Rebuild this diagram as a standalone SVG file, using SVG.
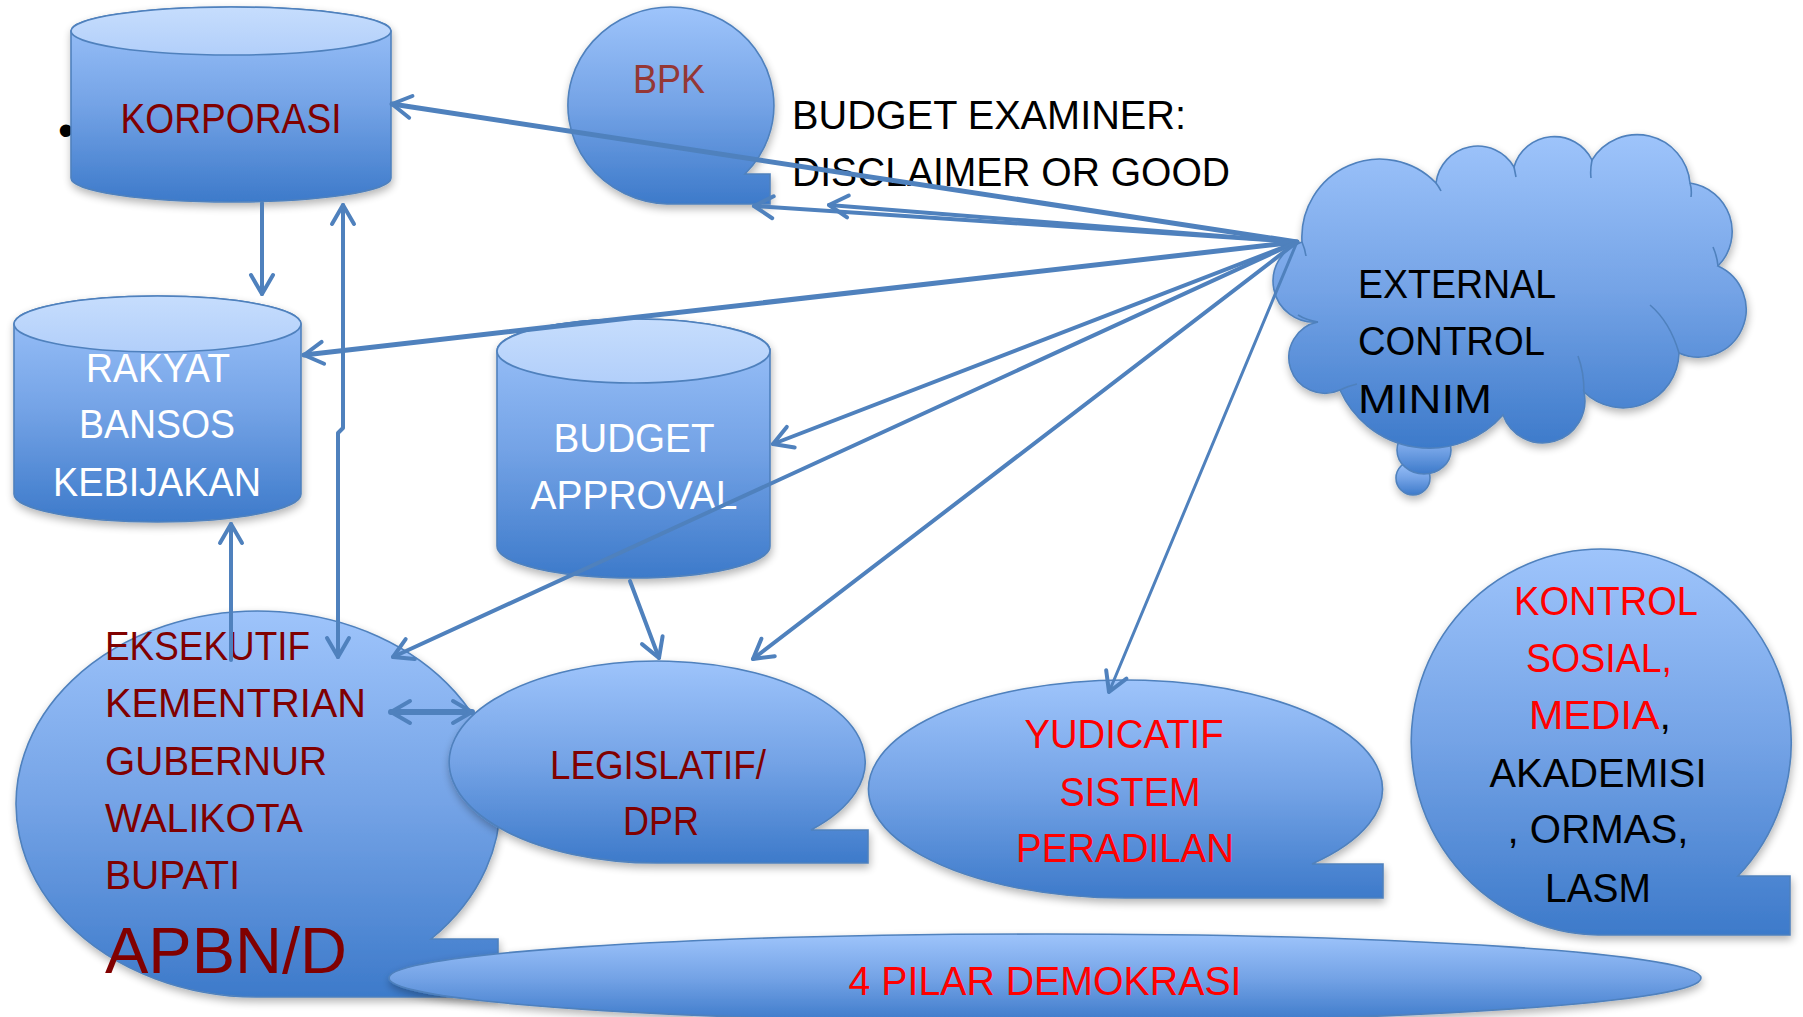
<svg xmlns="http://www.w3.org/2000/svg" width="1803" height="1017" viewBox="0 0 1803 1017">
  <defs>
    <linearGradient id="gFill" x1="0" y1="0" x2="0" y2="1">
      <stop offset="0" stop-color="#9ec4fb"/>
      <stop offset="0.5" stop-color="#74a3e6"/>
      <stop offset="1" stop-color="#3d7aca"/>
    </linearGradient>
    <linearGradient id="gCap" x1="0" y1="0" x2="0" y2="1">
      <stop offset="0" stop-color="#c6ddfd"/>
      <stop offset="1" stop-color="#b2cffa"/>
    </linearGradient>
    <filter id="shadow" x="-10%" y="-10%" width="120%" height="130%">
      <feGaussianBlur in="SourceAlpha" stdDeviation="4"/>
      <feOffset dx="1" dy="4" result="b"/>
      <feComponentTransfer><feFuncA type="linear" slope="0.3"/></feComponentTransfer>
      <feMerge><feMergeNode/><feMergeNode in="SourceGraphic"/></feMerge>
    </filter>
    <marker id="ah" viewBox="-25 -15 30 30" refX="0" refY="0" markerWidth="30" markerHeight="30" markerUnits="userSpaceOnUse" orient="auto-start-reverse" overflow="visible">
      <path d="M -19 -11 L 0 0 L -19 11" fill="none" stroke="#4f81bd" stroke-width="4" stroke-linecap="round" stroke-linejoin="round"/>
    </marker>
  </defs>
  <style>
    .shape { fill: url(#gFill); stroke: #4f81bd; stroke-width: 1.6; }
    .cap { fill: url(#gCap); stroke: #4f81bd; stroke-width: 1.6; }
    .inner { fill: none; stroke: #4f81bd; stroke-width: 1.6; }
    .t { font-family: "Liberation Sans", Arial, sans-serif; font-size: 41px; }
    .big { font-size: 64px; }
    .k43 { font-size: 43px; }
    .dot { font-size: 46px; }
    .mid { text-anchor: middle; }
    .dred { fill: #800000; }
    .red { fill: #ff0000; }
    .blk { fill: #000000; }
    .wht { fill: #ffffff; }
    .conn { fill: none; stroke: #4f81bd; stroke-linecap: round; stroke-linejoin: round; }
  </style>

  <rect width="1803" height="1017" fill="#ffffff"/>

  <text x="66" y="146" class="t dot mid blk">•</text>

  <!-- KORPORASI cylinder -->
  <g id="korporasi">
    <g filter="url(#shadow)">
      <path class="shape" d="M 71 31 V 178 A 160 24 0 0 0 391 178 V 31 A 160 24 0 0 0 71 31 Z"/>
      <ellipse class="cap" cx="231" cy="31" rx="160" ry="24"/>
    </g>
    <text x="231" y="133" class="t k43 mid dred" textLength="221" lengthAdjust="spacingAndGlyphs">KORPORASI</text>
  </g>

  <!-- BPK callout -->
  <g id="bpk">
    <path class="shape" filter="url(#shadow)" d="M 667 204 A 103 98.5 0 1 1 745 174 L 770 174 L 770 204 Z"/>
    <text x="669" y="93" class="t mid" fill="#953735" textLength="72" lengthAdjust="spacingAndGlyphs">BPK</text>
  </g>

  <!-- free label next to BPK -->
  <g id="budget-examiner">
    <text x="792" y="129" class="t blk" textLength="394" lengthAdjust="spacingAndGlyphs">BUDGET EXAMINER:</text>
    <text x="792" y="186" class="t blk" textLength="438" lengthAdjust="spacingAndGlyphs">DISCLAIMER OR GOOD</text>
  </g>

  <!-- RAKYAT cylinder -->
  <g id="rakyat">
    <g filter="url(#shadow)">
      <path class="shape" d="M 14 324 V 494 A 143.5 28 0 0 0 301 494 V 324 A 143.5 28 0 0 0 14 324 Z"/>
      <ellipse class="cap" cx="157.5" cy="324" rx="143.5" ry="28"/>
    </g>
    <text x="158" y="382" class="t mid wht" textLength="144" lengthAdjust="spacingAndGlyphs">RAKYAT</text>
    <text x="157" y="438" class="t mid wht" textLength="156" lengthAdjust="spacingAndGlyphs">BANSOS</text>
    <text x="157" y="496" class="t mid wht" textLength="208" lengthAdjust="spacingAndGlyphs">KEBIJAKAN</text>
  </g>

  <!-- BUDGET APPROVAL cylinder -->
  <g id="budget-approval">
    <g filter="url(#shadow)">
      <path class="shape" d="M 497 351 V 546 A 136.5 32 0 0 0 770 546 V 351 A 136.5 32 0 0 0 497 351 Z"/>
      <ellipse class="cap" cx="633.5" cy="351" rx="136.5" ry="32"/>
    </g>
    <text x="634" y="452" class="t mid wht" textLength="161" lengthAdjust="spacingAndGlyphs">BUDGET</text>
    <text x="634" y="509" class="t mid wht" textLength="207" lengthAdjust="spacingAndGlyphs">APPROVAL</text>
  </g>

  <!-- EKSEKUTIF callout -->
  <g id="eksekutif">
    <path class="shape" filter="url(#shadow)" d="M 256 997 A 242 193 0 1 1 431 939 L 498 939 L 498 997 Z"/>
    <text x="105" y="660" class="t dred" textLength="205" lengthAdjust="spacingAndGlyphs">EKSEKUTIF</text>
    <text x="105" y="717" class="t dred" textLength="261" lengthAdjust="spacingAndGlyphs">KEMENTRIAN</text>
    <text x="105" y="775" class="t dred" textLength="222" lengthAdjust="spacingAndGlyphs">GUBERNUR</text>
    <text x="105" y="832" class="t dred" textLength="198" lengthAdjust="spacingAndGlyphs">WALIKOTA</text>
    <text x="105" y="889" class="t dred" textLength="135" lengthAdjust="spacingAndGlyphs">BUPATI</text>
    <text x="105" y="973" class="t big dred" textLength="242" lengthAdjust="spacingAndGlyphs">APBN/D</text>
  </g>

  <!-- LEGISLATIF callout -->
  <g id="legislatif">
    <path class="shape" filter="url(#shadow)" d="M 660 863 A 208 101 0 1 1 811 830 L 868 830 L 868 863 Z"/>
    <text x="658" y="779" class="t mid dred" textLength="216" lengthAdjust="spacingAndGlyphs">LEGISLATIF/</text>
    <text x="661" y="835" class="t mid dred" textLength="76" lengthAdjust="spacingAndGlyphs">DPR</text>
  </g>

  <!-- YUDICATIF callout -->
  <g id="yudicatif">
    <path class="shape" filter="url(#shadow)" d="M 1125 898 A 257 109 0 1 1 1312 864 L 1383 864 L 1383 898 Z"/>
    <text x="1124" y="748" class="t mid red" textLength="199" lengthAdjust="spacingAndGlyphs">YUDICATIF</text>
    <text x="1130" y="806" class="t mid red" textLength="141" lengthAdjust="spacingAndGlyphs">SISTEM</text>
    <text x="1125" y="862" class="t mid red" textLength="218" lengthAdjust="spacingAndGlyphs">PERADILAN</text>
  </g>

  <!-- KONTROL SOSIAL callout -->
  <g id="kontrol-sosial">
    <path class="shape" filter="url(#shadow)" d="M 1598 935 A 190 193 0 1 1 1738 876 L 1790 876 L 1790 935 Z"/>
    <text x="1606" y="615" class="t mid red" textLength="184" lengthAdjust="spacingAndGlyphs">KONTROL</text>
    <text x="1599" y="672" class="t mid red" textLength="146" lengthAdjust="spacingAndGlyphs">SOSIAL,</text>
    <text x="1600" y="729" class="t mid" textLength="142" lengthAdjust="spacingAndGlyphs"><tspan class="red">MEDIA</tspan><tspan class="blk">,</tspan></text>
    <text x="1598" y="787" class="t mid blk" textLength="217" lengthAdjust="spacingAndGlyphs">AKADEMISI</text>
    <text x="1598" y="843" class="t mid blk" textLength="181" lengthAdjust="spacingAndGlyphs">, ORMAS,</text>
    <text x="1598" y="902" class="t mid blk" textLength="106" lengthAdjust="spacingAndGlyphs">LASM</text>
  </g>

  <!-- 4 PILAR DEMOKRASI base ellipse -->
  <g id="pilar">
    <ellipse class="shape" filter="url(#shadow)" cx="1045" cy="978" rx="656" ry="44"/>
    <text x="1045" y="995" class="t mid red" textLength="393" lengthAdjust="spacingAndGlyphs">4 PILAR DEMOKRASI</text>
  </g>

  <!-- EXTERNAL CONTROL thought cloud -->
  <g id="external-control">
    <g filter="url(#shadow)">
      <ellipse class="shape" cx="1413" cy="478" rx="17" ry="17"/>
      <ellipse class="shape" cx="1424" cy="450" rx="27" ry="24"/>
      <path class="shape" d="M 1318 322 A 41 41 0 0 1 1302 242 A 78 78 0 0 1 1436 183 A 42 42 0 0 1 1514 167 A 42 42 0 0 1 1592 160 A 53 53 0 0 1 1690 183 A 49 49 0 0 1 1718 266 A 46.5 46.5 0 0 1 1679 353 A 56 56 0 0 1 1584 392 A 42.2 42.2 0 0 1 1503 415 A 98 98 0 0 1 1340 390 A 36 36 0 1 1 1318 322 Z"/>
    </g>
    <path class="inner" d="M 1679 353 Q 1670 322 1650 305 M 1584 392 Q 1584 372 1578 356 M 1340 390 Q 1348 386 1357 384 M 1318 322 Q 1306 320 1298 315 M 1718 266 Q 1717 256 1713 247 M 1690 183 Q 1692 190 1691 197 M 1592 160 Q 1590 170 1591 178 M 1514 167 Q 1515 172 1516 177 M 1436 183 Q 1439 187 1441 191 M 1302 242 Q 1305 249 1306 256"/>
    <text x="1358" y="298" class="t blk" textLength="198" lengthAdjust="spacingAndGlyphs">EXTERNAL</text>
    <text x="1358" y="355" class="t blk" textLength="187" lengthAdjust="spacingAndGlyphs">CONTROL</text>
    <text x="1358" y="413" class="t blk" textLength="134" lengthAdjust="spacingAndGlyphs">MINIM</text>
  </g>

  <!-- connectors -->
  <g id="connectors">
    <path class="conn" stroke-width="5" marker-end="url(#ah)" d="M 1297 242 L 392 104"/>
    <path class="conn" stroke-width="4" marker-end="url(#ah)" d="M 1297 242 L 754 206"/>
    <path class="conn" stroke-width="4" marker-end="url(#ah)" d="M 1297 242 L 829 205"/>
    <path class="conn" stroke-width="5" marker-end="url(#ah)" d="M 1297 242 L 304 355"/>
    <path class="conn" stroke-width="4" marker-end="url(#ah)" d="M 1297 242 L 773 444"/>
    <path class="conn" stroke-width="4" marker-end="url(#ah)" d="M 1297 242 L 393 657"/>
    <path class="conn" stroke-width="4" marker-end="url(#ah)" d="M 1297 242 L 753 659"/>
    <path class="conn" stroke-width="3" marker-end="url(#ah)" d="M 1297 242 L 1109 692"/>
    <path class="conn" stroke-width="4" marker-end="url(#ah)" d="M 262 203 L 262 294"/>
    <path class="conn" stroke-width="4" marker-start="url(#ah)" marker-end="url(#ah)" d="M 343 205 V 428 L 338 433 V 657"/>
    <path class="conn" stroke-width="4" marker-end="url(#ah)" d="M 231 660 V 524"/>
    <path class="conn" stroke-width="4" marker-end="url(#ah)" d="M 630 581 L 659 658"/>
    <path class="conn" stroke-width="6" marker-start="url(#ah)" marker-end="url(#ah)" d="M 391 712 L 472 712"/>
  </g>
</svg>
